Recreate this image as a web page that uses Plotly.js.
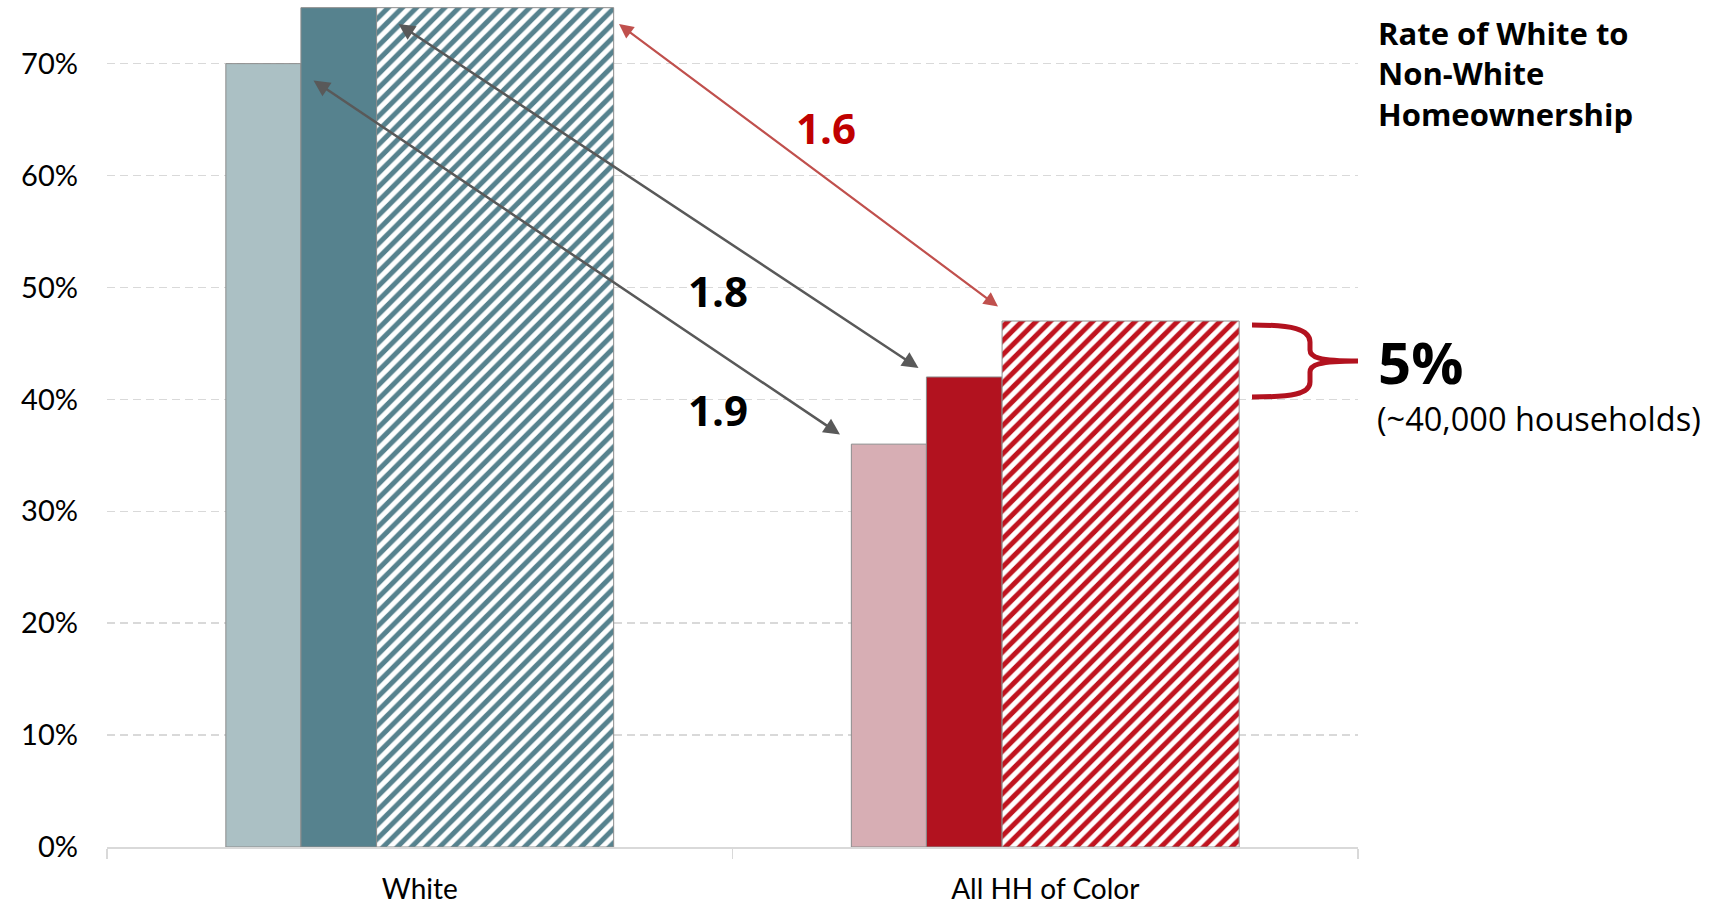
<!DOCTYPE html>
<html>
<head>
<meta charset="utf-8">
<script src="https://cdn.plot.ly/plotly-3.0.1.min.js"></script>
<style>html,body{margin:0;padding:0;background:#fff;}#chart{width:1729px;height:908px;}</style>
</head>
<body>
<div id="chart"></div>
<script>
// ---- data ----
const categories = ['White', 'All HH of Color'];
const baselineRate = [0.70, 0.36];
const currentRate = [0.75, 0.42];
const potentialRate = [0.75, 0.47];
const yTickVals = [0, 0.1, 0.2, 0.3, 0.4, 0.5, 0.6, 0.7];
const ratioLabels = ['1.9', '1.8', '1.6'];
const sideTitle = 'Rate of White to<br>Non-White<br>Homeownership';
const gapLabel = '5%';
const gapNote = '(~40,000 households)';

// ---- geometry helpers (pixel -> axis / paper) ----
const L = 107, R = 1358, T = 6, B = 847, YMAX = 0.7515;
const dX = px => -0.5 + (px - L) / (R - L) * 2;
const dY = py => (B - py) / (B - T) * YMAX;
const pX = px => (px - L) / (R - L);
const pY = py => (B - py) / (B - T);

const font = 'Lato, "Open Sans", sans-serif';
const boldFont = '"Open Sans", Lato, sans-serif';
const outline = {color: '#8c8c8c', width: 1};

const traces = [
  {type: 'bar', name: 'Baseline', x: categories, y: baselineRate, width: 0.12, offset: -0.31,
   marker: {color: ['#abc0c4', '#d7aeb4'], line: outline}, hoverinfo: 'y'},
  {type: 'bar', name: 'Current', x: categories, y: currentRate, width: 0.121, offset: -0.19,
   marker: {color: ['#56828e', '#b2121f'], line: outline}, hoverinfo: 'y'},
  {type: 'bar', name: 'Potential', x: categories, y: potentialRate, width: 0.379, offset: -0.069,
   marker: {color: '#ffffff', line: outline,
            pattern: {shape: '/', fgcolor: ['#56828e', '#c0141f'], bgcolor: '#ffffff', size: 10, solidity: 0.5, fillmode: 'replace'}},
   hoverinfo: 'y'}
];

function arrow(x1, y1, x2, y2, color, w) {
  return {xref: 'x', yref: 'y', axref: 'x', ayref: 'y',
    x: dX(x2), y: dY(y2), ax: dX(x1), ay: dY(y1), text: '', showarrow: true,
    arrowside: 'end+start', arrowhead: 2, startarrowhead: 2, arrowsize: 1.3, startarrowsize: 1.3,
    arrowwidth: w, arrowcolor: color, standoff: 0, startstandoff: 0};
}
function label(txt, px, py, size, color) {
  return {xref: 'paper', yref: 'paper', x: pX(px), y: pY(py), xanchor: 'center', yanchor: 'middle',
    text: txt, showarrow: false, font: {family: boldFont, size: size, color: color, weight: 700}};
}

const annotations = [
  arrow(312, 79.4, 840, 434.5, '#595959', 2.5),
  arrow(397, 23, 918.5, 368, '#595959', 2.5),
  arrow(617.5, 23, 998, 306.5, '#c0504d', 2.2),
  label(ratioLabels[0], 717.5, 409.5, 42, '#000000'),
  label(ratioLabels[1], 717.5, 290.5, 42, '#000000'),
  label(ratioLabels[2], 825.5, 128, 42, '#c00000'),
  {xref: 'paper', yref: 'paper', x: pX(1376), y: pY(74), xanchor: 'left', yanchor: 'middle', align: 'left',
   text: sideTitle, showarrow: false, font: {family: boldFont, size: 31, color: '#000', weight: 700}},
  {xref: 'paper', yref: 'paper', x: pX(1376), y: pY(361), xanchor: 'left', yanchor: 'middle', align: 'left',
   text: gapLabel, showarrow: false, font: {family: boldFont, size: 58, color: '#000', weight: 700}},
  {xref: 'paper', yref: 'paper', x: pX(1375), y: pY(418), xanchor: 'left', yanchor: 'middle', align: 'left',
   text: gapNote, showarrow: false, font: {family: boldFont, size: 32.5, color: '#000'}}
];

// curly brace
const bracePts = [['M',1252,325],['C',1292,325,1310,329,1310,342],['L',1310,350],['C',1310,357,1318,361,1358,361],
  ['C',1318,361,1310,365,1310,372],['L',1310,382],['C',1310,394,1292,397,1252,397]];
const bracePath = bracePts.map(s => {
  const cmd = s[0]; const nums = s.slice(1); const out = [];
  for (let i = 0; i < nums.length; i += 2) out.push(pX(nums[i]).toFixed(5) + ',' + pY(nums[i+1]).toFixed(5));
  return cmd + out.join(' ');
}).join(' ');

const layout = {
  width: 1729, height: 908,
  margin: {l: L, r: 1729 - R, t: T, b: 908 - B},
  paper_bgcolor: '#ffffff', plot_bgcolor: '#ffffff',
  showlegend: false, barmode: 'overlay',
  font: {family: font, color: '#000'},
  xaxis: {type: 'category', range: [-0.5, 1.5], tickson: 'boundaries', ticks: 'outside', ticklen: 10,
    tickcolor: '#d9d9d9', tickwidth: 1.5, showline: true, linecolor: '#d9d9d9', linewidth: 2,
    showgrid: false, tickfont: {family: font, size: 28, color: '#000'}, ticklabelstandoff: 16, fixedrange: true},
  yaxis: {range: [0, YMAX], tickvals: yTickVals, tickformat: '.0%', showgrid: true, gridcolor: '#d9d9d9',
    griddash: '8px,5px', gridwidth: 1.5, zeroline: false, showline: false, ticks: '',
    tickfont: {family: font, size: 29, color: '#000'}, ticklabelstandoff: 28, fixedrange: true},
  annotations: annotations,
  shapes: [{type: 'path', xref: 'paper', yref: 'paper', path: bracePath,
    line: {color: '#b2121f', width: 5}, fillcolor: 'rgba(0,0,0,0)'}]
};

Plotly.newPlot('chart', traces, layout, {displayModeBar: false, staticPlot: true});
</script>
</body>
</html>
